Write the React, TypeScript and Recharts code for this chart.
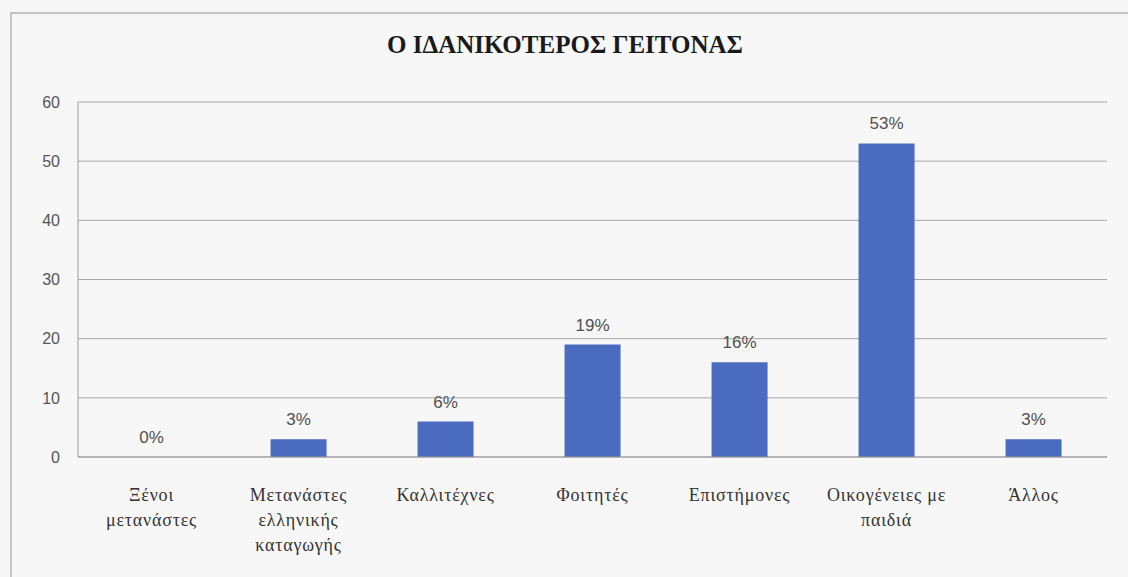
import { ComposedChart, Bar, Line, XAxis, YAxis, CartesianGrid, LabelList } from 'recharts';

const categories = [
  'Ξένοι μετανάστες',
  'Μετανάστες ελληνικής καταγωγής',
  'Καλλιτέχνες',
  'Φοιτητές',
  'Επιστήμονες',
  'Οικογένειες με παιδιά',
  'Άλλος',
];

// label lines as they wrap under each bar
const categoryLines = [
  ['Ξένοι', 'μετανάστες'],
  ['Μετανάστες', 'ελληνικής', 'καταγωγής'],
  ['Καλλιτέχνες'],
  ['Φοιτητές'],
  ['Επιστήμονες'],
  ['Οικογένειες με', 'παιδιά'],
  ['Άλλος'],
];

const values = [0, 3, 6, 19, 16, 53, 3];
const yTicks = [0, 10, 20, 30, 40, 50, 60];

const data = categories.map((name, i) => ({
  name,
  value: values[i],
  label: `${values[i]}%`,
}));

const serif = "'Liberation Serif', 'DejaVu Serif', 'Times New Roman', serif";
const sans = "'Liberation Sans', 'DejaVu Sans', sans-serif";

function CategoryTick({ x, y, payload, index }: any) {
  const lines = categoryLines[index] ?? [payload.value];
  return (
    <g transform={`translate(${x},${y})`}>
      {lines.map((line: string, i: number) => (
        <text
          key={i}
          x={0}
          y={36 + i * 25}
          textAnchor="middle"
          fill="#333"
          style={{ fontFamily: serif, fontSize: 18, letterSpacing: 0.8 }}
        >
          {line}
        </text>
      ))}
    </g>
  );
}

// labels ride on an invisible line so the 0% bar gets one too
function PercentLabel({ x, y, value }: any) {
  return (
    <text
      x={x}
      y={y - 14}
      textAnchor="middle"
      fill="#505050"
      style={{ fontFamily: sans, fontSize: 17 }}
    >
      {value}
    </text>
  );
}

export default function App() {
  return (
    <div
      style={{
        position: 'fixed',
        left: 0,
        top: 0,
        width: 1128,
        height: 577,
        background: '#f7f7f7',
        overflow: 'hidden',
      }}
    >
      <div
        style={{
          position: 'absolute',
          left: 10,
          top: 12,
          width: 1130,
          height: 600,
          border: '2px solid #c4c4c4',
          boxSizing: 'border-box',
        }}
      />
      <div
        style={{
          position: 'absolute',
          left: 0,
          top: 31,
          width: 1130,
          textAlign: 'center',
          fontFamily: serif,
          fontWeight: 'bold',
          fontSize: 25,
          color: '#1a1a1a',
        }}
      >
        Ο ΙΔΑΝΙΚΟΤΕΡΟΣ ΓΕΙΤΟΝΑΣ
      </div>
      <div style={{ position: 'absolute', left: 0, top: 0 }}>
        <ComposedChart
          width={1128}
          height={577}
          data={data}
          margin={{ top: 102, right: 21, bottom: 0, left: 18 }}
          barCategoryGap="31%"
        >
          <CartesianGrid vertical={false} stroke="#a8a8a8" />
          <XAxis
            dataKey="name"
            height={120}
            interval={0}
            tickLine={false}
            axisLine={{ stroke: '#9a9a9a' }}
            tick={<CategoryTick />}
          />
          <YAxis
            width={60}
            domain={[0, 60]}
            ticks={yTicks}
            tickLine={false}
            tickSize={0}
            tickMargin={18}
            axisLine={{ stroke: '#9a9a9a' }}
            tick={{ fill: '#555', fontFamily: sans, fontSize: 16 }}
          />
          <Bar dataKey="value" fill="#4a6bbf" isAnimationActive={false} />
          <Line
            dataKey="value"
            stroke="none"
            dot={false}
            activeDot={false}
            legendType="none"
            isAnimationActive={false}
          >
            <LabelList dataKey="label" content={<PercentLabel />} />
          </Line>
        </ComposedChart>
      </div>
    </div>
  );
}
